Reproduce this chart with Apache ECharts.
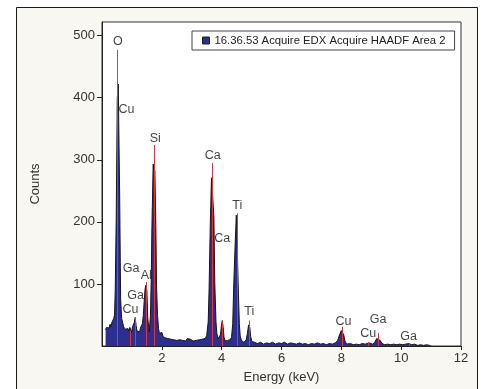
<!DOCTYPE html>
<html>
<head>
<meta charset="utf-8">
<script src="https://cdn.jsdelivr.net/npm/echarts@6/dist/echarts.min.js"></script>
<style>
html,body{margin:0;padding:0;background:#ffffff;}
#chart{width:481px;height:389px;}
</style>
</head>
<body>
<div id="chart"></div>
<script>
// ---- data ----
const seriesName = "16.36.53 Acquire EDX Acquire HAADF Area 2";

const energyKeV = [
  0.12,0.15,0.18,0.21,0.24,0.27,0.30,0.33,0.36,0.39,0.42,0.443,0.477,0.51,0.543,0.59,0.623,0.657,0.69,0.72,
  0.75,0.78,0.81,0.84,0.87,0.90,0.93,0.96,0.99,1.02,1.05,1.08,1.11,1.14,1.17,1.20,1.23,1.26,1.29,1.32,
  1.35,1.38,1.41,1.44,1.47,1.50,1.53,1.56,1.58,1.62,1.65,1.667,1.71,1.767,1.80,1.823,1.857,1.89,1.92,1.96,
  2.00,2.04,2.08,2.12,2.16,2.20,2.25,2.30,2.35,2.40,2.45,2.50,2.55,2.60,2.65,2.70,2.75,2.80,2.85,2.90,
  2.95,3.00,3.05,3.10,3.15,3.20,3.25,3.30,3.35,3.40,3.45,3.50,3.55,3.58,3.62,3.66,3.71,3.74,3.77,3.81,
  3.84,3.88,3.92,3.96,3.99,4.02,4.05,4.08,4.12,4.16,4.20,4.24,4.28,4.33,4.37,4.40,4.44,4.49,4.52,4.55,
  4.59,4.62,4.66,4.70,4.74,4.78,4.82,4.86,4.90,4.94,4.97,5.01,5.05,5.10,5.20,5.30,5.40,5.50,5.60,5.70,
  5.80,5.90,6.00,6.10,6.20,6.30,6.40,6.50,6.60,6.70,6.80,6.90,7.00,7.10,7.20,7.30,7.40,7.50,7.60,7.70,
  7.80,7.88,7.94,8.00,8.04,8.08,8.12,8.18,8.30,8.40,8.50,8.60,8.70,8.80,8.86,8.92,8.98,9.05,9.12,9.18,
  9.24,9.30,9.36,9.45,9.55,9.65,9.75,9.85,9.95,10.05,10.15,10.25,10.35,10.45,10.55,10.65,10.75,10.85,10.95,11.00
];
const counts = [
  26,30,27,33,29,35,31,38,36,44,50,92,213,398,422,245,76,44,38,31,
  34,27,29,25,28,24,30,27,22,31,29,38,46,33,24,21,26,23,30,27,
  36,49,72,92,98,88,45,30,23,50,120,187,293,282,192,97,49,28,20,17,
  22,15,18,13,16,12,15,11,14,10,13,9,12,10,13,9,11,8,12,9,
  11,10,8,11,9,12,10,13,11,14,12,17,39,92,197,271,270,208,102,39,
  20,12,10,18,32,41,30,14,8,7,9,8,10,14,36,92,150,211,160,102,
  36,16,9,7,6,8,10,20,34,30,15,7,5,6,4,6,3,5,4,6,
  3,5,4,6,3,5,4,3,5,3,4,2,4,3,5,3,4,2,4,3,
  5,9,18,25,27,18,8,3,4,2,3,2,4,3,6,5,3,3,6,12,
  14,9,4,2,3,2,3,2,3,2,3,4,2,3,1,2,1,2,1,0
];

// element marker lines (energy, marker height)
const markerKeV    = [0.525, 0.93, 1.10, 1.49, 1.74, 3.69, 4.01, 4.51, 4.93, 8.04, 8.90, 9.25, 10.26];
const markerHeight = [477,   25,   46,   103,  324,  295,  40,   214,  41,   31,   6,    21,   3];

// element labels (text, energy position, count position)
const labelText = ["O",  "Cu", "Si", "Ca", "Ca", "Ti", "Ti", "Ga", "Al", "Ga", "Cu", "Cu", "Cu", "Ga", "Ga"];
const labelKeV  = [0.53, 0.82, 1.78, 3.70, 4.02, 4.52, 4.92, 0.97, 1.48, 1.12, 0.95, 8.07, 8.90, 9.23, 10.25];
const labelCnt  = [490,  381,  335,  307,  173,  227,  56,   125,  114,  81,   59,   40,   20,   43,   16];

const xTicks = [0, 2, 4, 6, 8, 10, 12];
const yTicks = [0, 100, 200, 300, 400, 500];

// ---- chart ----
const chart = echarts.init(document.getElementById('chart'), null, {renderer: 'canvas'});
const FONT = '"Liberation Sans", Arial, sans-serif';

const spectrum = energyKeV.map((e, i) => [e, counts[i]]);
const markerLines = markerKeV.map((e, i) => [{coord: [e, 0]}, {coord: [e, markerHeight[i]]}]);
const labelData = labelText.map((t, i) => ({name: t, value: [labelKeV[i], labelCnt[i]]}));

chart.setOption({
  animation: false,
  backgroundColor: 'transparent',
  textStyle: {fontFamily: FONT},
  graphic: [{
    type: 'rect', z: -10, silent: true,
    shape: {x: 16.5, y: 7.5, width: 461, height: 400},
    style: {fill: '#f8f7f1', stroke: '#1a1a1a', lineWidth: 1}
  }],
  grid: {
    left: 102, top: 22, right: 20, bottom: 38,
    show: true, backgroundColor: '#ffffff', borderColor: '#333333', borderWidth: 1
  },
  legend: {
    left: 192, top: 31,
    padding: [4, 9, 4, 10],
    borderColor: '#444444', borderWidth: 1, backgroundColor: '#ffffff',
    itemWidth: 7, itemHeight: 7, itemGap: 4,
    icon: 'rect',
    textStyle: {fontFamily: FONT, fontSize: 11.3, color: '#222222', padding: [1, 0, 0, 0]},
    data: [{name: seriesName, itemStyle: {color: '#2c2e90', borderColor: '#222', borderWidth: 1}}]
  },
  xAxis: {
    type: 'value', min: xTicks[0], max: xTicks[xTicks.length - 1], interval: 2,
    name: 'Energy (keV)', nameLocation: 'middle', nameGap: 25,
    nameTextStyle: {fontFamily: FONT, fontSize: 13, color: '#333333'},
    axisLine: {show: true, lineStyle: {color: '#222222', width: 1}},
    axisTick: {show: true, inside: false, length: 4, lineStyle: {color: '#222222'}},
    axisLabel: {showMinLabel: false, fontFamily: FONT, fontSize: 13, color: '#333333', margin: 6},
    splitLine: {show: false}
  },
  yAxis: {
    type: 'value', min: 0, max: 522, interval: 100,
    name: 'Counts', nameLocation: 'middle', nameGap: 60, nameRotate: 90,
    nameTextStyle: {fontFamily: FONT, fontSize: 13, color: '#333333'},
    axisLine: {show: true, lineStyle: {color: '#222222', width: 1}},
    axisTick: {show: true, inside: false, length: 5, lineStyle: {color: '#222222'}},
    axisLabel: {showMinLabel: false, showMaxLabel: false, fontFamily: FONT, fontSize: 13, color: '#333333', margin: 7},
    splitLine: {show: false}
  },
  series: [
    {
      name: seriesName, type: 'line', data: spectrum,
      symbol: 'none', silent: true,
      lineStyle: {color: '#151515', width: 1},
      areaStyle: {color: '#2c2e90', opacity: 1},
      itemStyle: {color: '#2c2e90'},
      z: 2
    },
    {
      type: 'line', data: [], silent: true, z: 3,
      markLine: {
        silent: true, symbol: ['none', 'none'], label: {show: false},
        lineStyle: {color: '#e5323c', width: 1, type: 'solid'},
        emphasis: {disabled: true},
        data: markerLines
      }
    },
    {
      type: 'scatter', data: labelData, symbolSize: 0, silent: true, z: 4,
      label: {
        show: true, formatter: '{b}', position: [0, 0], align: 'center', verticalAlign: 'middle',
        fontFamily: FONT, fontSize: 12.5, color: '#111111'
      }
    }
  ]
});
</script>
</body>
</html>
